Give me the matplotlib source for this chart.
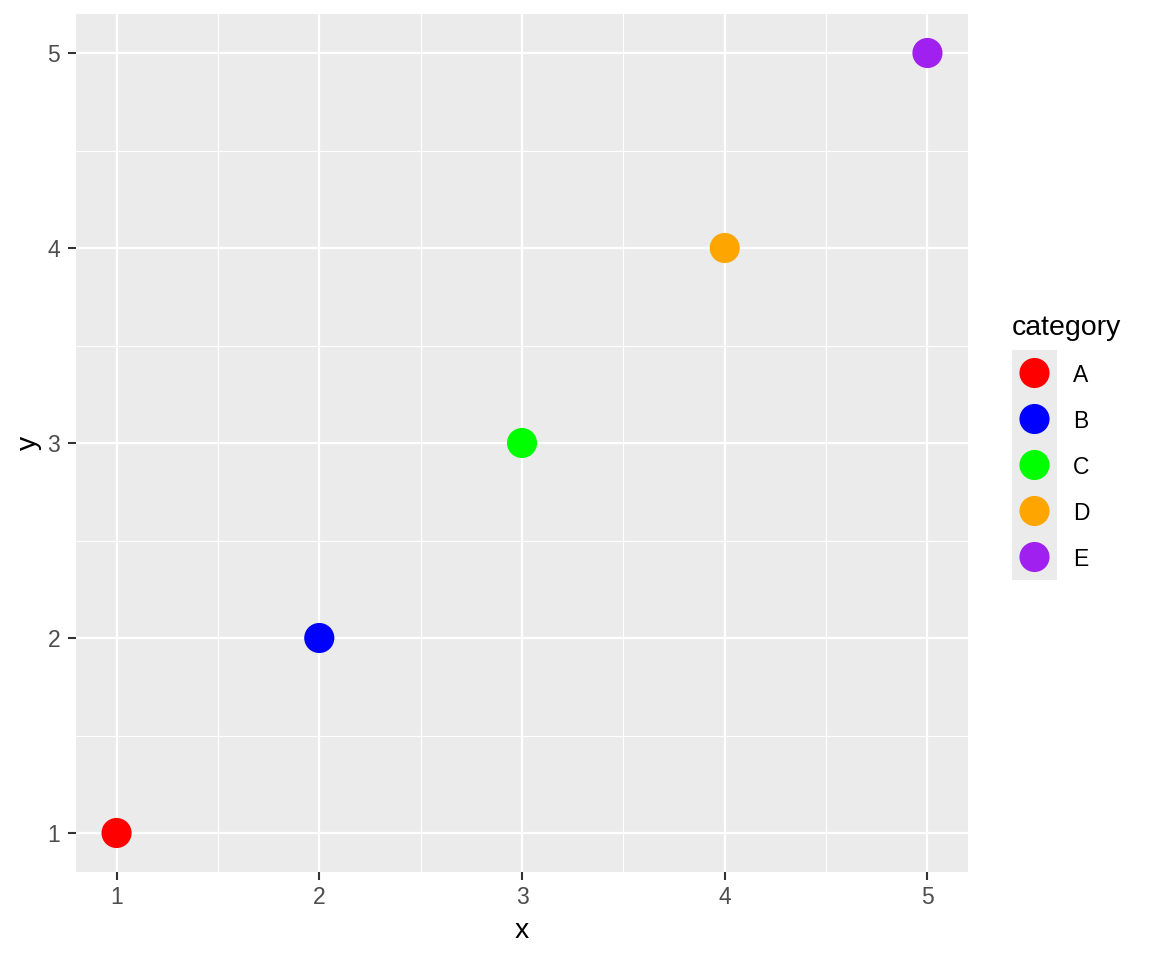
import matplotlib
matplotlib.use("Agg")
import matplotlib.pyplot as plt
from matplotlib.patches import Rectangle

categories = ["A", "B", "C", "D", "E"]
x_vals = [1, 2, 3, 4, 5]
y_vals = [1, 2, 3, 4, 5]
colors = ["#FF0000", "#0000FF", "#00FF00", "#FFA500", "#A020F0"]
ticks = [1, 2, 3, 4, 5]
minor_ticks = [1.5, 2.5, 3.5, 4.5]

plt.rcParams['font.family'] = ['Liberation Sans', 'DejaVu Sans']

fig = plt.figure(figsize=(11.52, 9.6), dpi=100)
ax = fig.add_axes([76/1152, 1-872/960, (968-76)/1152, (872-14)/960])
ax.set_facecolor("#EBEBEB")
for s in ax.spines.values():
    s.set_visible(False)

ax.set_xlim(0.8, 5.2)
ax.set_ylim(0.8, 5.2)
ax.set_xticks(ticks)
ax.set_yticks(ticks)
ax.set_xticks(minor_ticks, minor=True)
ax.set_yticks(minor_ticks, minor=True)
ax.grid(which="major", color="white", linewidth=1.6)
ax.grid(which="minor", color="white", linewidth=0.8)
ax.set_axisbelow(True)
ax.tick_params(which="major", length=5.8, width=1.5, color="#333333",
               labelcolor="#4D4D4D", labelsize=16.5, pad=4.5)
ax.tick_params(axis="y", which="major", pad=5.5)
ax.tick_params(which="minor", length=0)

for xv, yv, c in zip(x_vals, y_vals, colors):
    ax.scatter(xv, yv, s=470, color=c, edgecolors="none", zorder=3)

ax.set_xlabel("x", fontsize=20.5, color="black", labelpad=6)
ax.set_ylabel("y", fontsize=20.5, color="black", labelpad=4)

# legend
fig.text(1012/1152, 1-325/960, "category", fontsize=20.5, ha="left",
         va="center_baseline")
lax = fig.add_axes([1012/1152, 1-580/960, 45/1152, 230/960])
lax.set_xlim(0, 1)
lax.set_ylim(len(categories), 0)
lax.axis("off")
lax.add_patch(Rectangle((0, 0), 1, len(categories), color="#EBEBEB", zorder=0))
for i, (cat, c) in enumerate(zip(categories, colors)):
    lax.scatter(0.5, i + 0.5, s=470, color=c, edgecolors="none", zorder=3)
    lax.text(61/45, i + 0.5, cat, fontsize=16.5, ha="left", va="center_baseline",
             transform=lax.transData, clip_on=False)

fig.savefig("out.png", dpi=100, facecolor="white")
